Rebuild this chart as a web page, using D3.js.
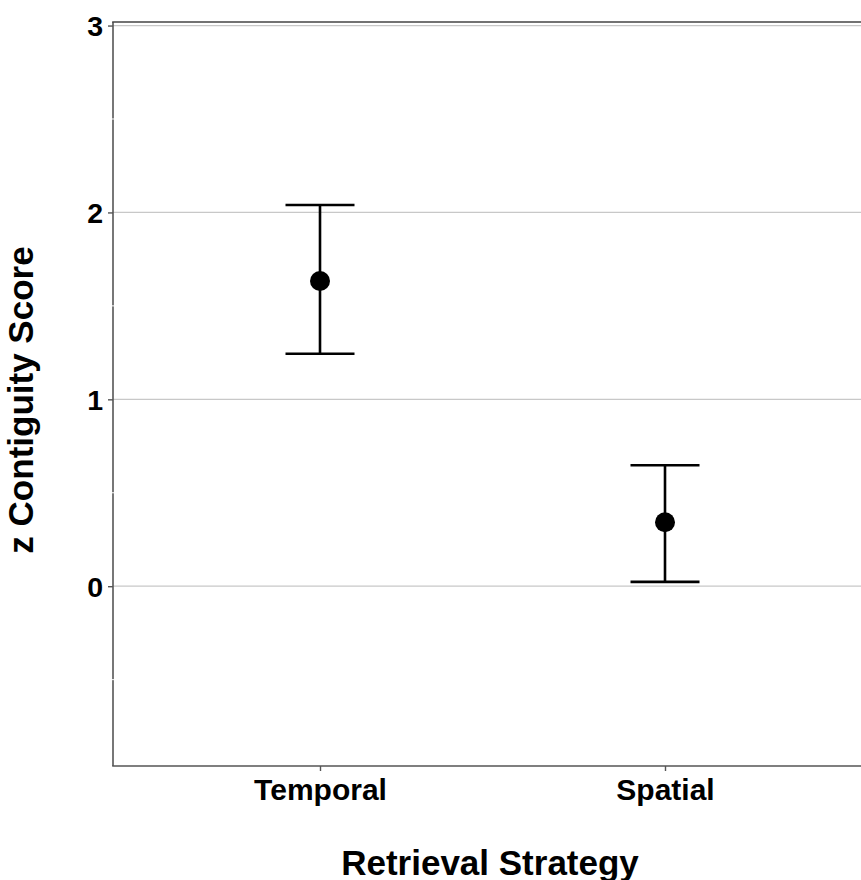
<!DOCTYPE html>
<html>
<head>
<meta charset="utf-8">
<style>
body { margin: 0; background: #ffffff; }
text { font-family: "Liberation Sans", Arial, sans-serif; font-weight: bold; fill: #000; }
</style>
<script src="https://d3js.org/d3.v7.min.js"></script>
</head>
<body>
<div id="chart"></div>
<script>
// data
var strategies = ["Temporal", "Spatial"];
var means = [1.633, 0.342];
var upper = [2.04, 0.647];
var lower = [1.244, 0.023];
var yTicks = [0, 1, 2, 3];
var yMinor = [-0.5, 0.5, 1.5, 2.5];

var W = 861, H = 880;
// panel edges (panel runs past the right edge of the picture)
var pLeft = 113, pTop = 22, pBottom = 766, pRight = 872;

var svg = d3.select("#chart").append("svg")
  .attr("width", W).attr("height", H);

var x = d3.scalePoint()
  .domain(strategies)
  .range([pLeft, pRight])
  .padding(0.6);

var y = d3.scaleLinear()
  .domain([-0.962, 3.019])
  .range([pBottom, pTop]);

// major grid
svg.append("g").selectAll("line")
  .data(yTicks).enter().append("line")
    .attr("x1", pLeft).attr("x2", pRight)
    .attr("y1", function(d) { return y(d); })
    .attr("y2", function(d) { return y(d); })
    .attr("stroke", "#c8c8c8")
    .attr("stroke-width", 1.2);

// panel lines: left, bottom, top
svg.append("line").attr("x1", pLeft).attr("x2", pLeft).attr("y1", pTop).attr("y2", pBottom)
  .attr("stroke", "#555").attr("stroke-width", 1.6);
svg.append("line").attr("x1", pLeft - 0.8).attr("x2", pRight).attr("y1", pBottom).attr("y2", pBottom)
  .attr("stroke", "#555").attr("stroke-width", 1.6);
svg.append("line").attr("x1", pLeft - 0.8).attr("x2", pRight).attr("y1", pTop).attr("y2", pTop)
  .attr("stroke", "#444").attr("stroke-width", 1.6);

// minor grid is white, it only shows as small breaks in the axis line
svg.append("g").selectAll("line")
  .data(yMinor).enter().append("line")
    .attr("x1", pLeft - 1).attr("x2", pLeft + 1)
    .attr("y1", function(d) { return y(d); })
    .attr("y2", function(d) { return y(d); })
    .attr("stroke", "#fff")
    .attr("stroke-width", 1);

// y axis
var yAxis = svg.append("g")
  .attr("transform", "translate(" + pLeft + ",0)")
  .call(d3.axisLeft(y).tickValues(yTicks).tickFormat(d3.format("d")).tickSize(5).tickPadding(5));
yAxis.select(".domain").remove();
yAxis.selectAll(".tick line").attr("stroke", "#555").attr("stroke-width", 1.4);
yAxis.selectAll("text").style("font-size", "28.5px").attr("dy", "0.36em").attr("fill", "#000");

// x axis
var xAxis = svg.append("g")
  .attr("transform", "translate(0," + pBottom + ")")
  .call(d3.axisBottom(x).tickSize(5).tickPadding(8));
xAxis.select(".domain").remove();
xAxis.selectAll(".tick line").attr("stroke", "#555").attr("stroke-width", 1.4);
xAxis.selectAll("text").style("font-size", "30px").attr("dy", "0.71em").attr("fill", "#000");

// error bars
var capHalf = x.step() * 0.1;
var bars = svg.append("g").selectAll("g")
  .data(strategies).enter().append("g");
bars.append("line")
  .attr("x1", function(d) { return x(d); })
  .attr("x2", function(d) { return x(d); })
  .attr("y1", function(d, i) { return y(upper[i]); })
  .attr("y2", function(d, i) { return y(lower[i]); })
  .attr("stroke", "#000").attr("stroke-width", 2.6);
bars.append("line")
  .attr("x1", function(d) { return x(d) - capHalf; })
  .attr("x2", function(d) { return x(d) + capHalf; })
  .attr("y1", function(d, i) { return y(upper[i]); })
  .attr("y2", function(d, i) { return y(upper[i]); })
  .attr("stroke", "#000").attr("stroke-width", 2.6);
bars.append("line")
  .attr("x1", function(d) { return x(d) - capHalf; })
  .attr("x2", function(d) { return x(d) + capHalf; })
  .attr("y1", function(d, i) { return y(lower[i]); })
  .attr("y2", function(d, i) { return y(lower[i]); })
  .attr("stroke", "#000").attr("stroke-width", 2.6);
bars.append("circle")
  .attr("cx", function(d) { return x(d); })
  .attr("cy", function(d, i) { return y(means[i]); })
  .attr("r", 10)
  .attr("fill", "#000");

// axis titles
svg.append("text")
  .attr("x", 490).attr("y", 875)
  .attr("text-anchor", "middle")
  .style("font-size", "35px")
  .text("Retrieval Strategy");

svg.append("text")
  .attr("transform", "translate(33,400) rotate(-90)")
  .attr("text-anchor", "middle")
  .style("font-size", "35px")
  .text("z Contiguity Score");
</script>
</body>
</html>
